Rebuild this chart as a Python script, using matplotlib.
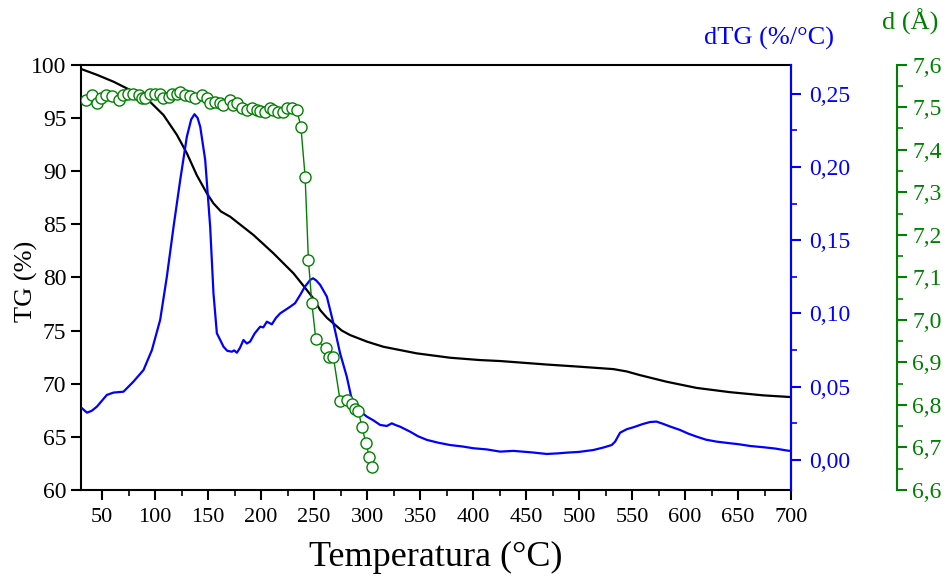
import matplotlib.pyplot as plt
from matplotlib.ticker import FuncFormatter, MultipleLocator

plt.rcParams['font.family'] = ['Liberation Serif', 'DejaVu Serif']
plt.rcParams['mathtext.fontset'] = 'stix'

# TG mass curve (%)
tg_temp = [30, 45, 60.7, 79.5, 95.3, 107.8, 120.5, 129.9, 139.3, 148.8, 155, 162,
           170.8, 192.8, 211.6, 230.5, 240, 249.4, 255.7, 262, 268.2, 276, 284, 300,
           315.4, 346.9, 378.3, 406.6, 425.5, 469.5, 500, 532.4, 545, 557.6, 582.7,
           611, 642.5, 673.9, 700]
tg_val = [99.6, 99.05, 98.4, 97.46, 96.5, 95.27, 93.4, 91.67, 89.6, 87.9, 86.96, 86.2,
          85.7, 83.98, 82.26, 80.38, 79.2, 78.0, 76.92, 76.2, 75.67, 75.0, 74.57, 73.95,
          73.47, 72.85, 72.44, 72.22, 72.13, 71.8, 71.6, 71.37, 71.15, 70.8, 70.18,
          69.6, 69.2, 68.9, 68.74]

# dTG curve (%/°C)
dtg_temp = [30.9, 35.6, 40, 45, 54.4, 60.7, 70.1, 79.5, 89, 96.9, 104.7, 111, 117.3,
            123.6, 129.9, 134, 137.1, 140, 142.5, 147.2, 151.9, 155, 158.2, 164.5,
            168, 172.4, 174.5, 177.1, 180, 183.3, 186.5, 189.6, 194, 199.1, 202,
            205.4, 210.1, 214, 218, 222, 227.4, 232, 236.8, 241, 246.3, 249, 252,
            255.7, 262, 268.2, 274.5, 280.8, 285.6, 291.8, 299.7, 306, 312.3, 318.6,
            323.3, 327, 331.2, 340.6, 348, 356.4, 367, 378.3, 390, 400.3, 413, 425.5,
            438, 455, 469.5, 480, 488.4, 500, 513.5, 523, 530.8, 534, 538.7, 545,
            551.2, 560, 567, 573, 579.5, 586, 595.2, 603, 611, 620, 630, 642.5, 650,
            662, 673.9, 685, 697.4, 700]
dtg_val = [0.0353, 0.0323, 0.0335, 0.0364, 0.0444, 0.046, 0.0466, 0.0535, 0.0614,
           0.075, 0.0956, 0.125, 0.159, 0.191, 0.2207, 0.2325, 0.236, 0.2335, 0.2275,
           0.2048, 0.159, 0.1138, 0.0865, 0.0773, 0.0745, 0.0739, 0.0748, 0.0732,
           0.0765, 0.0819, 0.0795, 0.0808, 0.0865, 0.091, 0.0905, 0.0944, 0.0926,
           0.097, 0.1001, 0.102, 0.1046, 0.107, 0.1126, 0.118, 0.1229, 0.124, 0.1225,
           0.1195, 0.1115, 0.0933, 0.0728, 0.0569, 0.041, 0.0341, 0.0296, 0.027,
           0.0239, 0.0232, 0.025, 0.0238, 0.0227, 0.0193, 0.0162, 0.0137, 0.0118,
           0.0102, 0.0092, 0.008, 0.0072, 0.0057, 0.0062, 0.0052, 0.0041, 0.0045,
           0.005, 0.0055, 0.0068, 0.0085, 0.0102, 0.0125, 0.0186, 0.021, 0.0223,
           0.0245, 0.0259, 0.0262, 0.0246, 0.0228, 0.0205, 0.018, 0.0159, 0.0138,
           0.0125, 0.0114, 0.0108, 0.0095, 0.0087, 0.0078, 0.0063, 0.0063]

# basal spacing d (Å)
d_temp = [34.9, 40.3, 45, 48.8, 53.8, 59.2, 65.4, 70.1, 74.8, 79.5, 84.3, 87.5, 90.6,
          95.3, 100, 104.7, 107.8, 112.6, 115.8, 120.5, 123.6, 128.3, 133, 137.7,
          144, 148.8, 151.9, 156.6, 161.3, 164.4, 170.8, 173.9, 177.1, 181.8, 186.5,
          191.2, 196, 199.1, 203.8, 208.6, 211.6, 216.3, 221, 224.3, 229, 233.7,
          237.5, 241.5, 244.6, 247.8, 251.6, 261, 264.4, 268.2, 274.5, 281.4, 285.6,
          288.7, 291.8, 295, 298.8, 302.2, 305]
d_val = [7.517, 7.529, 7.511, 7.521, 7.529, 7.526, 7.517, 7.529, 7.530, 7.530, 7.529,
         7.522, 7.521, 7.530, 7.530, 7.530, 7.522, 7.525, 7.530, 7.530, 7.535, 7.529,
         7.527, 7.522, 7.529, 7.521, 7.511, 7.513, 7.509, 7.505, 7.517, 7.505, 7.509,
         7.498, 7.494, 7.498, 7.494, 7.491, 7.489, 7.498, 7.494, 7.489, 7.489, 7.498,
         7.498, 7.494, 7.454, 7.337, 7.141, 7.040, 6.954, 6.933, 6.913, 6.912, 6.810,
         6.812, 6.802, 6.790, 6.786, 6.749, 6.711, 6.677, 6.655]

BLUE = '#0000ff'
GREEN = '#008000'


def comma(fmt):
    return FuncFormatter(lambda v, pos: (fmt % v).replace('.', ','))


fig = plt.figure(figsize=(9.47, 5.81), dpi=100)
ax = fig.add_axes([81 / 947, 1 - 490 / 581, 710 / 947, 425.3 / 581])

ax.plot(tg_temp, tg_val, color='black', lw=1.6)
ax.set_xlim(30, 700)
ax.set_ylim(60, 100)
ax.xaxis.set_major_locator(MultipleLocator(50))
ax.xaxis.set_minor_locator(MultipleLocator(25))
ax.yaxis.set_major_locator(MultipleLocator(5))
ax.tick_params(axis='both', which='major', direction='out', length=7, width=1.5,
               labelsize=17)
ax.tick_params(axis='x', which='major', labelsize=16, pad=6)
ax.tick_params(axis='x', which='minor', direction='out', length=4, width=1.2)
ax.tick_params(top=False, right=False)
for s in ax.spines.values():
    s.set_linewidth(1.5)
ax.set_ylabel('TG (%)', fontsize=19)
ax.yaxis.set_label_coords(-0.06, 0.49)
ax.set_xlabel('Temperatura (°C)', fontsize=26, labelpad=10)

# dTG on the first right axis
ax2 = ax.twinx()
ax2.plot(dtg_temp, dtg_val, color=BLUE, lw=1.6)
ax2.set_ylim(-0.0205, 0.2698)
ax2.yaxis.set_major_locator(MultipleLocator(0.05))
ax2.yaxis.set_minor_locator(MultipleLocator(0.025))
ax2.yaxis.set_major_formatter(comma('%.2f'))
ax2.tick_params(axis='y', which='major', direction='out', length=7, width=1.5,
                colors=BLUE, labelsize=17, pad=6)
ax2.tick_params(axis='y', which='minor', direction='out', length=4, width=1.2,
                colors=BLUE)
for side in ('top', 'left', 'bottom'):
    ax2.spines[side].set_visible(False)
ax2.spines['right'].set_color(BLUE)
ax2.spines['right'].set_linewidth(1.5)

# basal spacing on an offset right axis
ax3 = ax.twinx()
ax3.plot(d_temp, d_val, color=GREEN, lw=1.0, marker='o', ms=8,
         mfc='white', mec=GREEN, mew=1.0)
ax3.set_ylim(6.6, 7.6)
ax3.yaxis.set_major_locator(MultipleLocator(0.1))
ax3.yaxis.set_minor_locator(MultipleLocator(0.05))
ax3.yaxis.set_major_formatter(comma('%.1f'))
ax3.spines['right'].set_position(('axes', 1.149))
for side in ('top', 'left', 'bottom'):
    ax3.spines[side].set_visible(False)
ax3.spines['right'].set_color(GREEN)
ax3.spines['right'].set_linewidth(1.5)
ax3.tick_params(axis='y', which='major', direction='out', length=7, width=1.5,
                colors=GREEN, labelsize=17, pad=4)
ax3.tick_params(axis='y', which='minor', direction='out', length=4, width=1.2,
                colors=GREEN)

fig.text(769 / 947, 1 - 38 / 581, 'dTG (%/°C)', color=BLUE, fontsize=19,
         ha='center', va='center')
fig.text(910 / 947, 1 - 22 / 581, 'd (Å)', color=GREEN, fontsize=19,
         ha='center', va='center')

fig.savefig('out.png', dpi=100)
